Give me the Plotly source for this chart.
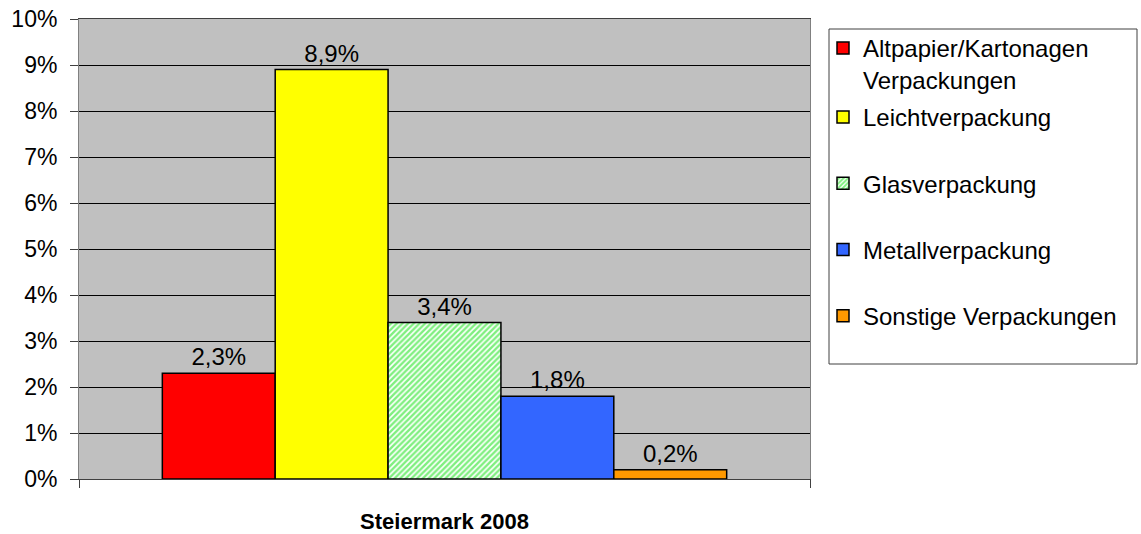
import plotly.graph_objects as go

categories = ["Steiermark 2008"]
series_names = ["Altpapier/Kartonagen<br>Verpackungen", "Leichtverpackung",
                "Glasverpackung", "Metallverpackung", "Sonstige Verpackungen"]
series_values = [0.023, 0.089, 0.034, 0.018, 0.002]
series_colors = ["#FF0000", "#FFFF00", "#FFFFFF", "#3366FF", "#FF9900"]
y_ticks = [0, 0.01, 0.02, 0.03, 0.04, 0.05, 0.06, 0.07, 0.08, 0.09, 0.10]

FONT = "Arial, Liberation Sans, sans-serif"

fig = go.Figure()
for i, (name, val, col) in enumerate(zip(series_names, series_values, series_colors)):
    marker = dict(color=col, line=dict(color="black", width=1.5))
    if name == "Glasverpackung":
        marker["pattern"] = dict(shape="/", fgcolor="#00E000", bgcolor="#FFFFFF",
                                 size=4, solidity=0.6)
    fig.add_trace(go.Bar(
        x=categories, y=[val], name=name, marker=marker,
        texttemplate="%{y:.1%}", textposition="outside",
        textfont=dict(size=24, color="black", family=FONT),
        cliponaxis=False, showlegend=True,
        legend="legend" if i == 0 else "legend2",
        legendgroup=f"g{i}",
    ))

L, R, T, B = 79, 810, 19, 479
W, H = 1141, 534
pw, ph = R - L, B - T

def px(x):
    return (x - L) / pw

def py(y):
    return (B - y) / ph

fig.add_shape(type="rect", xref="paper", yref="paper",
              x0=px(829), x1=px(1137), y0=py(364), y1=py(29),
              line=dict(color="#404040", width=1), fillcolor="rgba(0,0,0,0)")

fig.update_layout(
    width=W, height=H,
    margin=dict(l=L, r=W - R, t=T, b=H - B, autoexpand=False),
    paper_bgcolor="white", plot_bgcolor="#C0C0C0",
    separators=",.",
    showlegend=True,
    font=dict(family=FONT, color="black"),
    barmode="group", bargap=0.228, bargroupgap=0,
    legend=dict(x=px(823), y=py(26), xanchor="left", yanchor="top",
                valign="top", bgcolor="rgba(0,0,0,0)", borderwidth=0,
                font=dict(size=24, family=FONT, color="black")),
    legend2=dict(x=px(823), y=py(95), xanchor="left", yanchor="top",
                 bgcolor="rgba(0,0,0,0)", borderwidth=0, tracegroupgap=32,
                 font=dict(size=24, family=FONT, color="black")),
    xaxis=dict(showgrid=False, ticks="outside", tickson="boundaries", ticklen=8,
               tickcolor="#404040", showline=True, linecolor="#404040", linewidth=1,
               mirror=True, ticklabelstandoff=23,
               tickfont=dict(size=22, family=FONT, color="black", weight="bold")),
    yaxis=dict(range=[0, 0.10], tickvals=y_ticks, tickformat=".0%",
               showgrid=True, gridcolor="black", gridwidth=1,
               ticks="outside", ticklen=8, tickcolor="#404040",
               showline=True, linecolor="#808080", linewidth=1, mirror=True,
               ticklabelstandoff=8, zeroline=False,
               tickfont=dict(size=23, family=FONT, color="black")),
)

fig.write_html("out.html", config={"displayModeBar": False},
               post_script="document.body.style.margin='0';")
